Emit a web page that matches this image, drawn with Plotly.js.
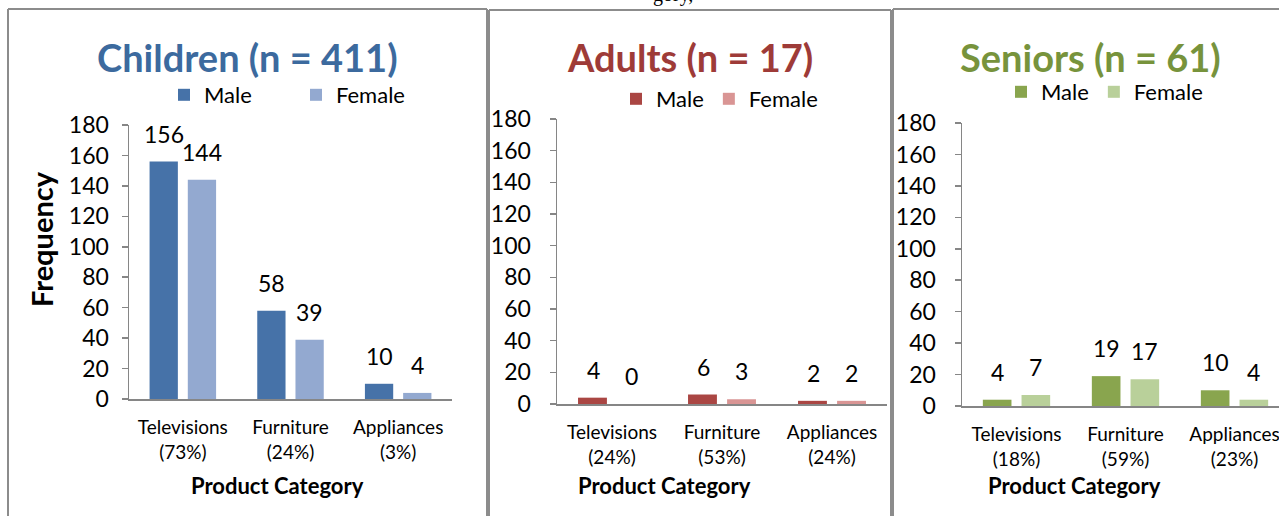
<!DOCTYPE html>
<html>
<head>
<meta charset="utf-8">
<script src="https://cdn.plot.ly/plotly-3.0.1.min.js"></script>
<style>
html,body{margin:0;padding:0;overflow:hidden;background:#fff;}
#chart{width:1300px;height:516px;}
</style>
</head>
<body>
<div id="chart"></div>
<script>
// ---- data ----
const categories = ['Televisions', 'Furniture', 'Appliances'];
const groupNames = ['Children (n = 411)', 'Adults (n = 17)', 'Seniors (n = 61)'];
const childrenMale = [156, 58, 10];
const childrenFemale = [144, 39, 4];
const childrenPct = ['73%', '24%', '3%'];
const adultsMale = [4, 6, 2];
const adultsFemale = [0, 3, 2];
const adultsPct = ['24%', '53%', '24%'];
const seniorsMale = [4, 19, 10];
const seniorsFemale = [7, 17, 4];
const seniorsPct = ['18%', '59%', '23%'];
const seriesNames = ['Male', 'Female'];
const yTickVals = [0, 20, 40, 60, 80, 100, 120, 140, 160, 180];
const xTitle = 'Product Category';
const yTitle = 'Frequency';
const captionFragment = 'gory,';

// ---- layout helpers ----
const W = 1300, H = 516;
const px = x => x / W;
const py = y => 1 - y / H;
const FONT = 'Lato, "Open Sans", sans-serif';
const AXC = '#868686';

const panels = [
  {male: childrenMale, female: childrenFemale, pct: childrenPct,
   colors: ['#4672A8', '#93A9D0'], titleColor: '#3C6A9E',
   xd: [129, 452], yd: [399, 125], title: [247, 57], legend: [164, 95], entry: 127, xt: [277, 485]},
  {male: adultsMale, female: adultsFemale, pct: adultsPct,
   colors: ['#AA4643', '#D99594'], titleColor: '#9E3B38',
   xd: [557, 887], yd: [404, 119], title: [690, 57], legend: [616, 99], entry: 0, xt: [664, 485]},
  {male: seniorsMale, female: seniorsFemale, pct: seniorsPct,
   colors: ['#89A54E', '#B9D09A'], titleColor: '#77933C',
   xd: [962, 1289], yd: [406, 123], title: [1090, 57], legend: [1001, 92], entry: 0, xt: [1074, 485]}
];

const traces = [];
const annotations = [];
const layout = {
  width: W, height: H,
  margin: {l: 0, r: 0, t: 0, b: 0},
  paper_bgcolor: '#ffffff', plot_bgcolor: 'rgba(0,0,0,0)',
  barmode: 'group', bargap: 0.29, bargroupgap: 0.26,
  font: {family: FONT, color: '#000'},
  showlegend: true,
  shapes: [],
  annotations: annotations
};

panels.forEach((p, i) => {
  const sfx = i === 0 ? '' : String(i + 1);
  const xa = 'x' + sfx, ya = 'y' + sfx, lg = 'legend' + sfx;
  const ticktext = categories.map((c, k) => c + '<br>(' + p.pct[k] + ')');
  [p.male, p.female].forEach((vals, s) => {
    traces.push({
      type: 'bar', x: categories, y: vals, name: seriesNames[s],
      xaxis: xa, yaxis: ya, legend: lg,
      marker: {color: p.colors[s], line: {width: 0}},
      hoverinfo: 'skip'
    });
    vals.forEach((v, k) => {
      annotations.push({
        xref: xa, yref: ya, x: categories[k], y: v,
        xshift: s === 0 ? -19 : 19, yshift: 12,
        yanchor: 'bottom', xanchor: 'center', showarrow: false,
        text: String(v), font: {size: 23, family: FONT, color: '#000'}
      });
    });
  });
  layout['xaxis' + sfx] = {
    domain: [px(p.xd[0]), px(p.xd[1])], anchor: ya,
    type: 'category', range: [-0.5, 2.5],
    tickvals: categories, ticktext: ticktext,
    showline: true, linecolor: AXC, linewidth: 1.5,
    ticks: '', showgrid: false, zeroline: false,
    ticklabelstandoff: 11,
    tickfont: {size: 19, family: FONT, color: '#000'}, fixedrange: true
  };
  layout['yaxis' + sfx] = {
    domain: [py(p.yd[0]), py(p.yd[1])], anchor: xa,
    range: [0, 180], tickvals: yTickVals,
    showline: true, linecolor: AXC, linewidth: 1.5,
    ticks: 'outside', ticklen: 6, tickcolor: AXC, tickwidth: 1.5,
    showgrid: false, zeroline: false,
    ticklabelstandoff: i === 0 ? 8 : 14,
    tickfont: {size: 23, family: FONT, color: '#000'}, fixedrange: true
  };
  const leg = {
    x: px(p.legend[0]), y: py(p.legend[1]), xanchor: 'left', yanchor: 'middle',
    orientation: 'h',
    font: {size: 22, family: FONT, color: '#000'},
    bgcolor: 'rgba(0,0,0,0)', borderwidth: 0, itemclick: false, itemdoubleclick: false
  };
  if (p.entry) { leg.entrywidth = p.entry - 40; leg.entrywidthmode = 'pixels'; }
  layout[lg] = leg;
  annotations.push({
    xref: 'paper', yref: 'paper', x: px(p.title[0]), y: py(p.title[1]),
    xanchor: 'center', yanchor: 'middle', showarrow: false,
    text: '<b>' + groupNames[i] + '</b>',
    font: {size: 38, family: FONT, color: p.titleColor}
  });
  annotations.push({
    xref: 'paper', yref: 'paper', x: px(p.xt[0]), y: py(p.xt[1]),
    xanchor: 'center', yanchor: 'middle', showarrow: false,
    text: '<b>' + xTitle + '</b>',
    font: {size: 22, family: FONT, color: '#000'}
  });
});

annotations.push({
  xref: 'paper', yref: 'paper', x: px(42), y: py(239),
  xanchor: 'center', yanchor: 'middle', showarrow: false, textangle: -90,
  text: '<b>' + yTitle + '</b>', font: {size: 29, family: FONT, color: '#000'}
});
annotations.push({
  xref: 'paper', yref: 'paper', x: px(695), y: py(8),
  xanchor: 'right', yanchor: 'bottom', showarrow: false,
  text: captionFragment, font: {size: 20, family: '"Liberation Serif", serif', color: '#000'}
});

// panel frames
const frame = (x0, y0, x1, y1) => ({type: 'line', xref: 'paper', yref: 'paper',
  x0: px(x0), y0: py(y0), x1: px(x1), y1: py(y1), line: {color: '#8c8c8c', width: 2}});
layout.shapes.push(
  frame(8, 9, 487, 9), frame(8, 9, 8, 530), frame(487, 9, 487, 530),
  frame(489, 10, 891, 10), frame(489, 10, 489, 530), frame(891, 10, 891, 530),
  frame(893, 9, 1300, 9), frame(893, 9, 893, 530)
);

Plotly.newPlot('chart', traces, layout, {displayModeBar: false, staticPlot: true});
</script>
</body>
</html>
